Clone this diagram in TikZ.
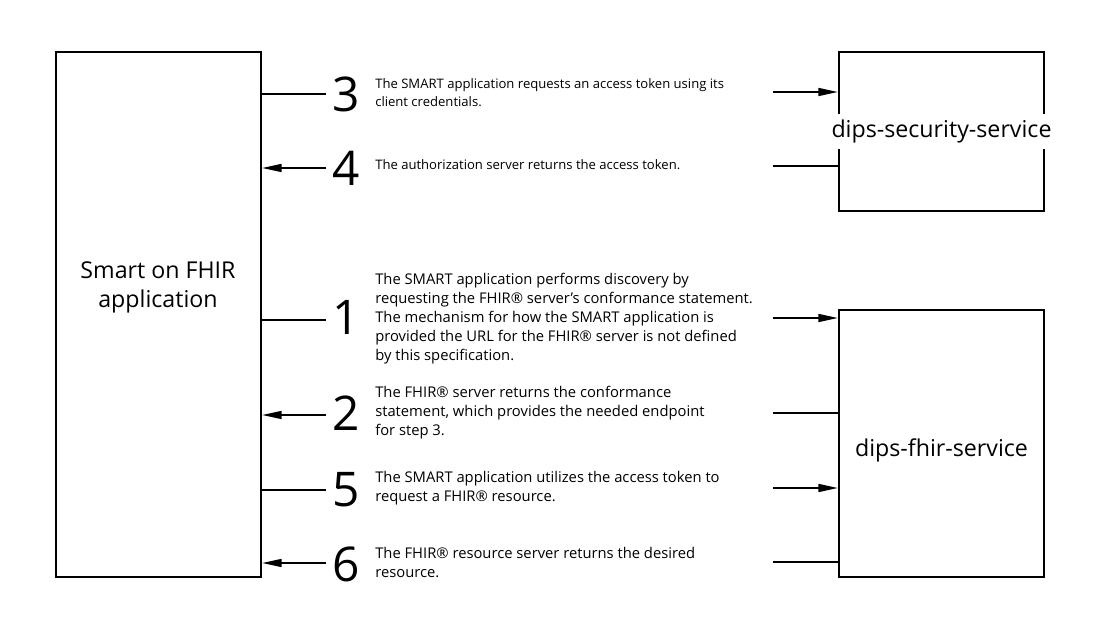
\documentclass[tikz,border=0pt]{standalone}
\usepackage{fontspec}
\setmainfont{Open Sans}
\usepackage{tikz}
\usetikzlibrary{arrows.meta}
\tikzstyle{box} = [draw, line width=1.4pt, minimum width=5.125cm, inner sep=0pt]
\tikzstyle{boxlabel} = [fill=white, align=center, inner sep=4pt, font=\fontsize{16.5}{20.5}\selectfont]
\tikzstyle{num} = [font=\fontsize{34}{34}\selectfont, inner xsep=4pt, inner ysep=0pt]
\tikzstyle{msg} = [anchor=west, align=left, inner sep=0pt, font=\fontsize{10.5}{13.5}\selectfont]
\tikzstyle{smallmsg} = [msg, font=\fontsize{9.3}{12.8}\selectfont]
\tikzstyle{wire} = [line width=1.4pt]
\tikzstyle{arrow} = [wire, -{Triangle[length=14pt,width=5.6pt]}]

\begin{document}
\begin{tikzpicture}[x=0.025cm, y=-0.025cm]
			\useasboundingbox (0, 0) rectangle (1105, 622);
			
			% the three parties
			\node[box, minimum height=13.125cm](app) at (158.5, 314.5){};
			\node[boxlabel, fill=none] at (158, 287){Smart on FHIR\\application};
			\node[box, minimum height=3.975cm](sec) at (941.5, 131.5){};
			\node[boxlabel] at (sec){dips-security-service};
			\node[box, minimum height=6.675cm](fhir) at (941.5, 443.5){};
			\node[boxlabel, fill=none] at (fhir.center |- 0, 450){dips-fhir-service};
			
			% step numbers
			\node[num](n3) at (346, 94){3};
			\node[num](n4) at (346, 168){4};
			\node[num](n1) at (346, 317){1};
			\node[num](n2) at (346, 413){2};
			\node[num](n5) at (346, 490){5};
			\node[num](n6) at (346, 564){6};
			
			% step texts
			\node[smallmsg](m3) at (375, 93){The SMART application requests an access token using its\\client credentials.};
			\node[smallmsg](m4) at (375, 165){The authorization server returns the access token.};
			\node[msg](m1) at (375, 319){The SMART application performs discovery by\\requesting the FHIR® server’s conformance statement.\\The mechanism for how the SMART application is\\provided the URL for the FHIR® server is not defined\\by this specification.};
			\node[msg](m2) at (375, 413){The FHIR® server returns the conformance\\statement, which provides the needed endpoint\\for step 3.};
			\node[msg](m5) at (375, 488.5){The SMART application utilizes the access token to\\request a FHIR® resource.};
			\node[msg](m6) at (375, 562.5){The FHIR® resource server returns the desired\\resource.};
			
			\coordinate(r3) at (773, 92);
			\coordinate(r4) at (773, 166);
			\coordinate(r1) at (773, 318);
			\coordinate(r2) at (773, 413);
			\coordinate(r5) at (773, 488);
			\coordinate(r6) at (773, 562);
			
			% app side
			\draw[wire](app.east |- n3) -- (n3.west);
			\draw[arrow](n4.west) -- (app.east |- n4);
			\draw[wire](app.east |- 0, 320) -- (n1.west |- 0, 320);
			\draw[arrow](n2.west |- 0, 415) -- (app.east |- 0, 415);
			\draw[wire](app.east |- n5) -- (n5.west);
			\draw[arrow](n6.west |- 0, 563) -- (app.east |- 0, 563);
			
			% server side
			\draw[arrow](r3) -- (r3 -| sec.west);
			\draw[wire](r4) -- (r4 -| sec.west);
			\draw[arrow](r1) -- (r1 -| fhir.west);
			\draw[wire](r2) -- (r2 -| fhir.west);
			\draw[arrow](r5) -- (r5 -| fhir.west);
			\draw[wire](r6) -- (r6 -| fhir.west);
		\end{tikzpicture}
\end{document}
